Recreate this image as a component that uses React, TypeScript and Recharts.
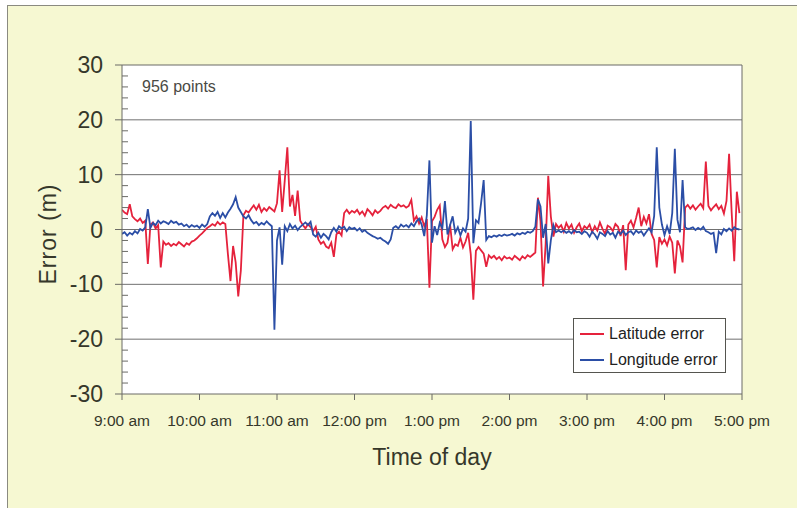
import React from 'react';
import {
  LineChart,
  Line,
  XAxis,
  YAxis,
  ReferenceLine,
  ReferenceArea,
} from 'recharts';

// minutes after 9:00 am, one sample every 2 min
const minutes: number[] = Array.from({ length: 240 }, (_, i) => i * 2);

const latitudeError: number[] = [
  3.6, 3.1, 2.8, 4.6, 2.4, 1.9, 1.5, 2.0, 1.2, 1.6,
  -6.3, 0.9, 1.3, 0.2, 0.8, -6.9, -2.2, -2.8, -2.5, -3.0,
  -2.6, -2.9, -2.3, -2.7, -3.1, -2.5, -2.8, -2.2, -2.0, -1.6,
  -1.1, -0.7, -0.2, 0.3, 0.6, 1.0, 0.7, 1.4, 0.9, 1.3,
  1.0, -4.5, -9.4, -3.0, -6.0, -12.2, -7.5, 2.6, 3.4, 3.1,
  3.8, 4.4, 3.6, 4.5, 3.2, 3.9, 3.4, 4.1, 3.7, 3.3,
  4.8, 10.8, 3.2, 8.9, 15.0, 4.2, 6.3, 2.5, 7.1, 1.6,
  0.8, 0.2, 1.0, 0.4, -0.3, 0.5, -1.8, -2.6, -2.2, -3.1,
  -3.4, -2.4, -5.0, -0.9, -0.4, -1.1, 3.0, 3.6, 2.9, 3.4,
  3.1, 3.6, 2.8, 3.3, 2.5, 3.7, 3.2, 2.6, 3.5, 3.0,
  3.4, 4.0, 4.3, 3.8, 4.5, 4.1, 3.9, 4.6, 4.2, 4.4,
  4.0, 4.3, 5.4, 1.6, 2.4, 1.1, 2.2, 0.6, 1.9, -10.6,
  1.5, 2.3, 3.6, 4.4, -1.8, -3.2, -2.4, 0.9, -3.6, -2.7,
  -3.0, -1.5, -3.3, -2.2, -0.6, -4.5, -12.8, -3.9, -3.2, -3.8,
  -4.4, -6.8, -4.7, -5.2, -4.8, -5.4, -5.0, -5.6, -4.9, -5.3,
  -5.1, -5.5, -4.8, -5.2, -5.6, -4.9, -5.3, -4.7, -5.0, -4.6,
  -4.2, 5.8, 1.5, -10.4, -2.6, 9.8, 2.4, -1.3, 1.0, 0.3,
  0.8, -0.4, 1.2, 0.2, 0.9, -0.6, 0.4, 1.1, -0.3, 0.6,
  0.2, 0.9, -0.5, 0.6, -0.2, 1.3, 0.1, -0.8, 0.7, 0.4,
  -0.3, 1.0, 0.5, -1.2, 0.8, -7.4, 0.9, 1.6, 0.4, 2.1,
  4.0, 0.6, 2.3, 1.1, 2.8, -0.8, -1.9, -6.9, -1.4, -2.6,
  -1.8, -2.9, -1.3, -2.4, -8.0, -2.0, -3.1, -6.0, 4.0, 4.5,
  3.8, 4.4, 3.6, 4.2, 4.7, 3.9, 12.4, 4.3, 3.5, 4.1,
  4.6, 3.7, 4.3, 2.9, 5.2, 13.8, 3.1, -5.8, 6.9, 3.0,
];

const longitudeError: number[] = [
  -0.8, -0.5, -1.1, -0.6, -0.9, -0.3, -0.7, 0.1, -0.2, 0.4,
  3.7, 0.3, 1.2, 0.8, 1.6, 1.1, 1.5, 1.3, 1.0, 1.6,
  1.2, 1.4, 0.9, 1.1, 0.6, 0.9, 0.4, 0.8, 0.5, 0.7,
  0.3, 0.9, 0.5, 1.0, 2.4, 3.0, 2.5, 3.2, 2.1, 3.0,
  2.2, 3.1, 3.8, 4.6, 5.9, 4.0, 3.2, 2.4, 2.0, 2.6,
  1.7, 1.1, 1.4, 0.8, 1.2, 0.9, 1.5, 1.0, 0.6, -18.3,
  -2.0, 0.4, -6.4, 0.6, -0.3, 1.0, 0.2, 0.7, -0.1, 0.5,
  0.9, 1.3, 0.8, 1.4, -0.9, -1.3, -0.6, -1.5, -0.8, -1.2,
  -1.8, -0.5, 0.3, -0.4, 0.6, 0.2, 0.5, -0.3, 0.4, 0.1,
  0.3, -0.2, 0.2, -0.4, -0.1, -0.6, -0.9, -1.2, -1.4, -1.7,
  -1.5, -1.9, -2.2, -2.6, -1.8, 0.3, 0.6, 0.2, 0.9, 0.5,
  0.8, 0.4, 1.1, 0.6, 1.5, 2.0, 0.9, -1.2, 2.6, 12.6,
  -2.4, 0.6, -1.0, 1.2, 0.2, 5.2, -0.9, 0.8, 2.4, -0.6,
  0.4, -1.1, 0.2, -0.4, 2.0, 19.8, -2.5, 1.7, 1.2, 4.8,
  9.0, -1.9, -1.2, -1.4, -1.1, -1.3, -1.0, -1.2, -0.9, -1.1,
  -1.0, -0.8, -1.1, -0.7, -0.9, -0.6, -0.8, -0.4, -0.6, -0.3,
  0.5, 5.5, 4.2, -1.5, 1.0, -6.2, -2.0, 0.8, -0.5, -0.2,
  -0.5, -0.2, -0.6, -0.3, -0.7, -0.1, -0.5, -0.4, -0.8, -0.3,
  -0.6, -1.3, -0.4, -0.9, -1.7, -0.5, -0.8, -1.2, -0.3, -0.9,
  -0.6, -1.5, -0.4, -0.8, -0.2, -1.0, -0.5, -0.3, -0.9, -0.2,
  -0.6, -0.3, -1.1, -0.4, 0.2, -0.5, 2.5, 15.0, 4.0, 0.9,
  -1.0, 0.6, -0.8, 3.0, 14.7, 1.8, -0.5, 9.0, 0.4, 0.1,
  0.2, 0.4, -0.1, 0.3, 0.0, 0.5, -0.3, -0.5, -0.8, -0.6,
  -4.3, -0.4, -0.9, 0.1, -0.3, 0.2, -0.2, 0.4, 0.1, 0.0,
];

const timeTicks = [0, 60, 120, 180, 240, 300, 360, 420, 480];
const timeLabels = [
  '9:00 am', '10:00 am', '11:00 am', '12:00 pm', '1:00 pm',
  '2:00 pm', '3:00 pm', '4:00 pm', '5:00 pm',
];
const errorTicks = [
  -30, -28, -26, -24, -22, -20, -18, -16, -14, -12, -10, -8, -6, -4, -2,
  0, 2, 4, 6, 8, 10, 12, 14, 16, 18, 20, 22, 24, 26, 28, 30,
];
const gridValues = [-20, -10, 0, 10, 20];

const series = [
  { key: 'lat', name: 'Latitude error', color: '#e5223c' },
  { key: 'lon', name: 'Longitude error', color: '#2b4ea6' },
];

const data = minutes.map((m, i) => ({
  t: m,
  lat: latitudeError[i],
  lon: longitudeError[i],
}));

const TEXT = '#35372a';
const AXIS = '#6b6b66';
const FONT = '"Liberation Sans", Arial, sans-serif';

function ErrorTick(props: any) {
  const { x, y, payload } = props;
  const v = payload.value;
  if (v % 10 === 0) {
    return (
      <g>
        <line x1={x - 7} x2={x} y1={y} y2={y} stroke={AXIS} />
        <text
          x={x - 19}
          y={y}
          textAnchor="end"
          dominantBaseline="central"
          fontSize={23}
          fill={TEXT}
          fontFamily={FONT}
        >
          {v}
        </text>
      </g>
    );
  }
  return <line x1={x} x2={x + 6} y1={y} y2={y} stroke={AXIS} />;
}

export default function App() {
  return (
    <div
      style={{
        position: 'absolute',
        left: 0,
        top: 0,
        width: 797,
        height: 508,
        background: '#ffffff',
        fontFamily: FONT,
        overflow: 'hidden',
      }}
    >
      <div
        style={{
          position: 'absolute',
          left: 7,
          top: 5,
          width: 800,
          height: 510,
          background: '#f6f8d2',
          borderTop: '1px solid #8a8a80',
          borderLeft: '1px solid #8a8a80',
        }}
      />
      <div style={{ position: 'absolute', left: 0, top: 0 }}>
        <LineChart
          width={797}
          height={508}
          data={data}
          margin={{ top: 65, right: 55, bottom: 84, left: 62 }}
        >
          <ReferenceArea
            x1={0}
            x2={480}
            y1={-30}
            y2={30}
            fill="#ffffff"
            fillOpacity={1}
            stroke="none"
          />
          {gridValues.map((g) => (
            <ReferenceLine key={g} y={g} stroke="#707070" strokeWidth={1} />
          ))}
          <ReferenceLine y={30} stroke={AXIS} />
          <ReferenceLine x={480} stroke={AXIS} />
          <XAxis
            dataKey="t"
            type="number"
            domain={[0, 480]}
            ticks={timeTicks}
            tickFormatter={(v: number) => timeLabels[timeTicks.indexOf(v)]}
            stroke={AXIS}
            tickSize={6}
            tickMargin={15}
            height={30}
            tick={{ fontSize: 15.5, fill: TEXT, fontFamily: FONT }}
            allowDataOverflow
          />
          <YAxis
            type="number"
            domain={[-30, 30]}
            ticks={errorTicks}
            interval={0}
            width={60}
            stroke={AXIS}
            tickLine={false}
            tickSize={0}
            tickMargin={0}
            tick={<ErrorTick />}
            allowDataOverflow
          />
          {series.map((s) => (
            <Line
              key={s.key}
              dataKey={s.key}
              name={s.name}
              stroke={s.color}
              strokeWidth={1.8}
              dot={false}
              isAnimationActive={false}
            />
          ))}
        </LineChart>
      </div>
      <div
        style={{
          position: 'absolute',
          left: 142,
          top: 78,
          fontSize: 16,
          color: '#4a4a44',
        }}
      >
        956 points
      </div>
      <div
        style={{
          position: 'absolute',
          left: 48,
          top: 234,
          transform: 'translate(-50%, -50%) rotate(-90deg)',
          fontSize: 23,
          letterSpacing: 1,
          color: TEXT,
          whiteSpace: 'nowrap',
        }}
      >
        Error (m)
      </div>
      <div
        style={{
          position: 'absolute',
          left: 432,
          top: 457,
          transform: 'translate(-50%, -50%)',
          fontSize: 23,
          color: TEXT,
          whiteSpace: 'nowrap',
        }}
      >
        Time of day
      </div>
      <div
        style={{
          position: 'absolute',
          left: 573,
          top: 318,
          width: 153,
          height: 55,
          background: '#ffffff',
          border: '1px solid #55554f',
          boxSizing: 'border-box',
          padding: '2px 0 0 6px',
        }}
      >
        {series.map((s) => (
          <div
            key={s.key}
            style={{ display: 'flex', alignItems: 'center', height: 26 }}
          >
            <span
              style={{
                display: 'inline-block',
                width: 24,
                height: 2,
                background: s.color,
                marginRight: 5,
              }}
            />
            <span style={{ fontSize: 16, color: '#222' }}>{s.name}</span>
          </div>
        ))}
      </div>
    </div>
  );
}
